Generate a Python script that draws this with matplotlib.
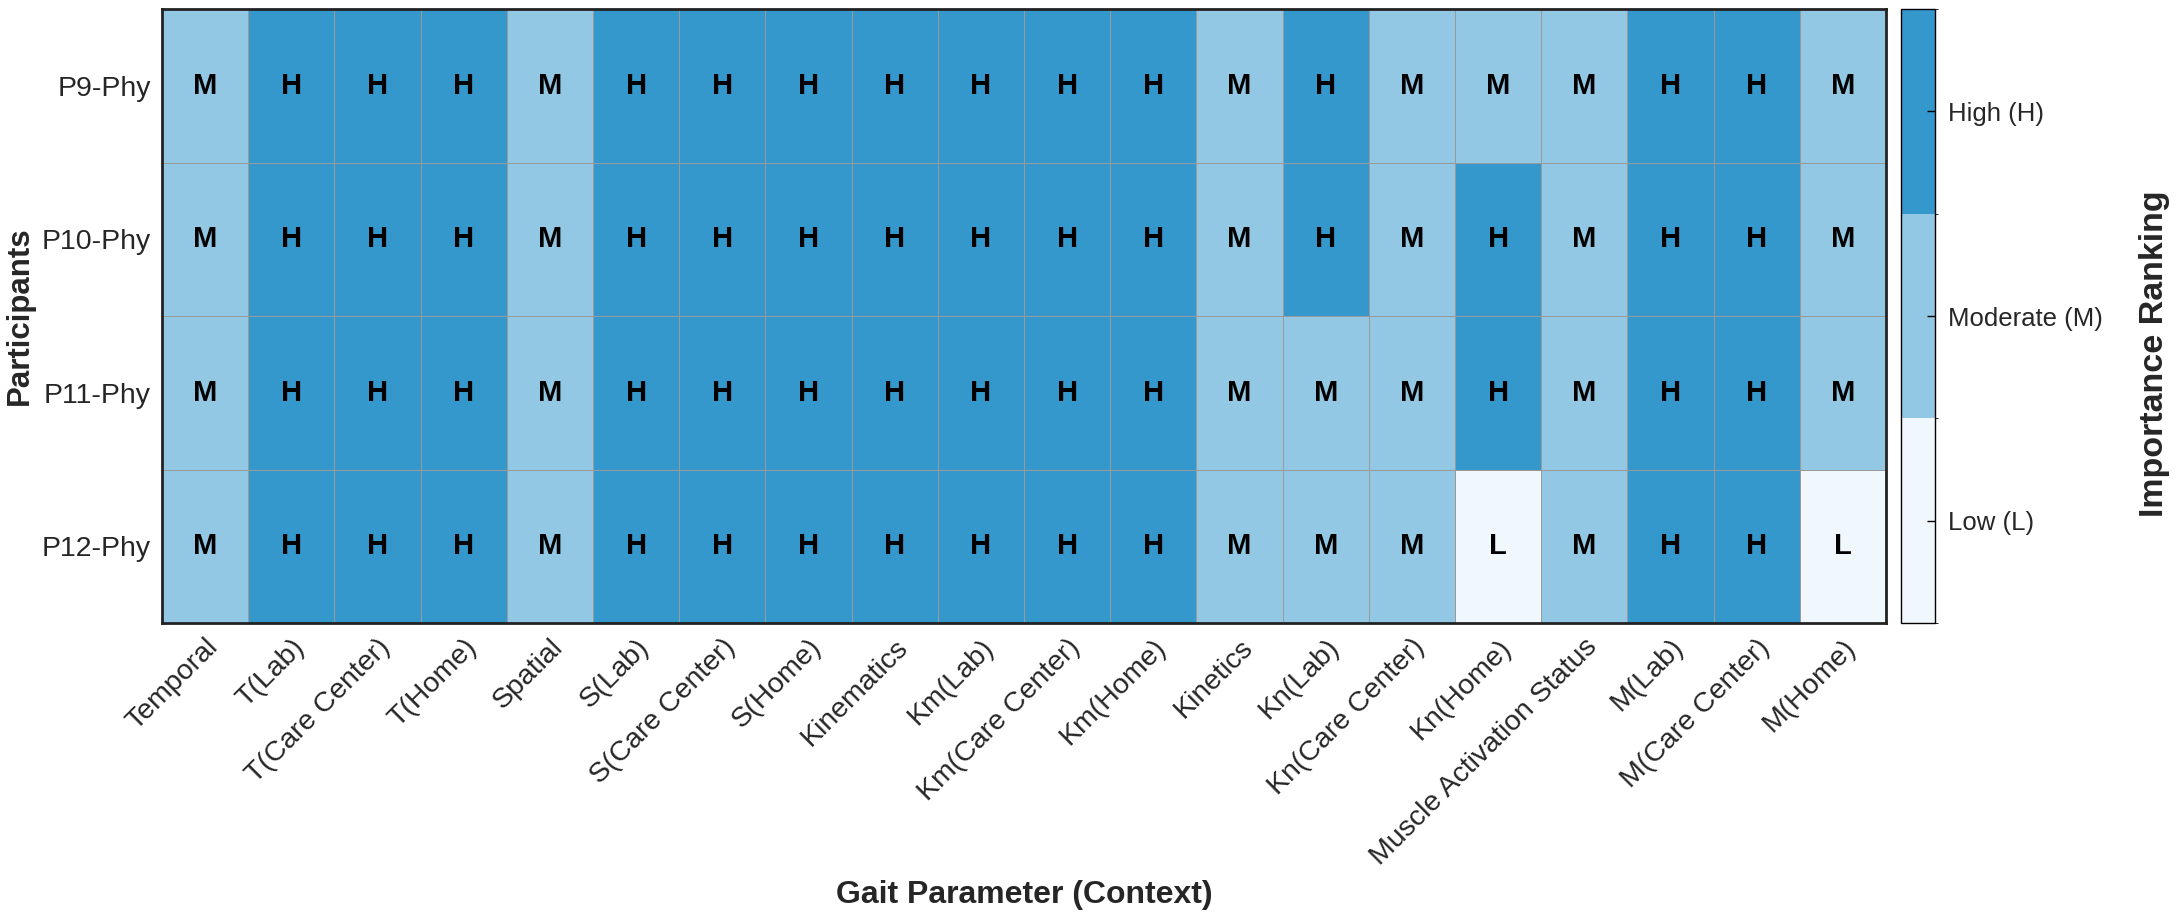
import numpy as np
import matplotlib
matplotlib.use("Agg")
import matplotlib.pyplot as plt
from matplotlib.colors import ListedColormap, BoundaryNorm

plt.rcParams['font.family'] = ['Liberation Sans', 'DejaVu Sans']

participants = ["P9-Phy", "P10-Phy", "P11-Phy", "P12-Phy"]
parameters = ["Temporal", "T(Lab)", "T(Care Center)", "T(Home)", "Spatial",
              "S(Lab)", "S(Care Center)", "S(Home)", "Kinematics", "Km(Lab)",
              "Km(Care Center)", "Km(Home)", "Kinetics", "Kn(Lab)",
              "Kn(Care Center)", "Kn(Home)", "Muscle Activation Status",
              "M(Lab)", "M(Care Center)", "M(Home)"]
p9 = "M H H H M H H H H H H H M H M M M H H M".split()
p10 = "M H H H M H H H H H H H M H M H M H H M".split()
p11 = "M H H H M H H H H H H H M M M H M H H M".split()
p12 = "M H H H M H H H H H H H M M M L M H H L".split()
levels = {"L": 0, "M": 1, "H": 2}
level_names = ["Low (L)", "Moderate (M)", "High (H)"]

ratings = [p9, p10, p11, p12]
values = np.array([[levels[r] for r in row] for row in ratings])

cmap = ListedColormap(["#f1f8fd", "#93c8e5", "#3498cc"])
norm = BoundaryNorm([-0.5, 0.5, 1.5, 2.5], cmap.N)

W, H = 2176, 913
fig = plt.figure(figsize=(W / 100, H / 100), dpi=100)
ax = fig.add_axes([162/W, 1 - 623/H, (1886-162)/W, (623-9)/H])
cax = fig.add_axes([1901/W, 1 - 623/H, 34/W, (623-9)/H])

mesh = ax.pcolormesh(values, cmap=cmap, norm=norm, edgecolors="#9a9a9a", linewidth=0.6)
ax.set_ylim(len(participants), 0)
ax.set_xlim(0, len(parameters))

for i, row in enumerate(ratings):
    for j, r in enumerate(row):
        ax.text(j + 0.5, i + 0.5, r, ha="center", va="center",
                fontsize=21, fontweight="bold", color="black")

ax.set_xticks(np.arange(len(parameters)) + 0.5)
ax.set_xticklabels(parameters, rotation=45, ha="right", rotation_mode="anchor",
                   fontsize=20.5, color="#262626")
ax.set_yticks(np.arange(len(participants)) + 0.5)
ax.set_yticklabels(participants, fontsize=20.5, color="#262626")
ax.tick_params(length=0, pad=8)
for s in ax.spines.values():
    s.set_linewidth(2)
    s.set_color("#222222")

# axis titles placed where the reference has them
fig.text((162 + 1886) / 2 / W, 1 - 895 / H, "Gait Parameter (Context)",
         ha="center", va="center", fontsize=23, fontweight="bold", color="#262626")
ax.set_ylabel("Participants", fontsize=22.5, fontweight="bold", color="#262626",
              labelpad=5)

cb = fig.colorbar(mesh, cax=cax, ticks=[0, 1, 2])
cb.ax.set_yticklabels(level_names, fontsize=18.5, color="#262626")
cb.ax.tick_params(direction="in", length=6, width=1, pad=9)
cb.outline.set_linewidth(1)
fig.text(2154 / W, 1 - 354 / H, "Importance Ranking", rotation=90,
         ha="center", va="center", fontsize=24.5, fontweight="bold", color="#262626")

fig.savefig("out.png", dpi=100)
